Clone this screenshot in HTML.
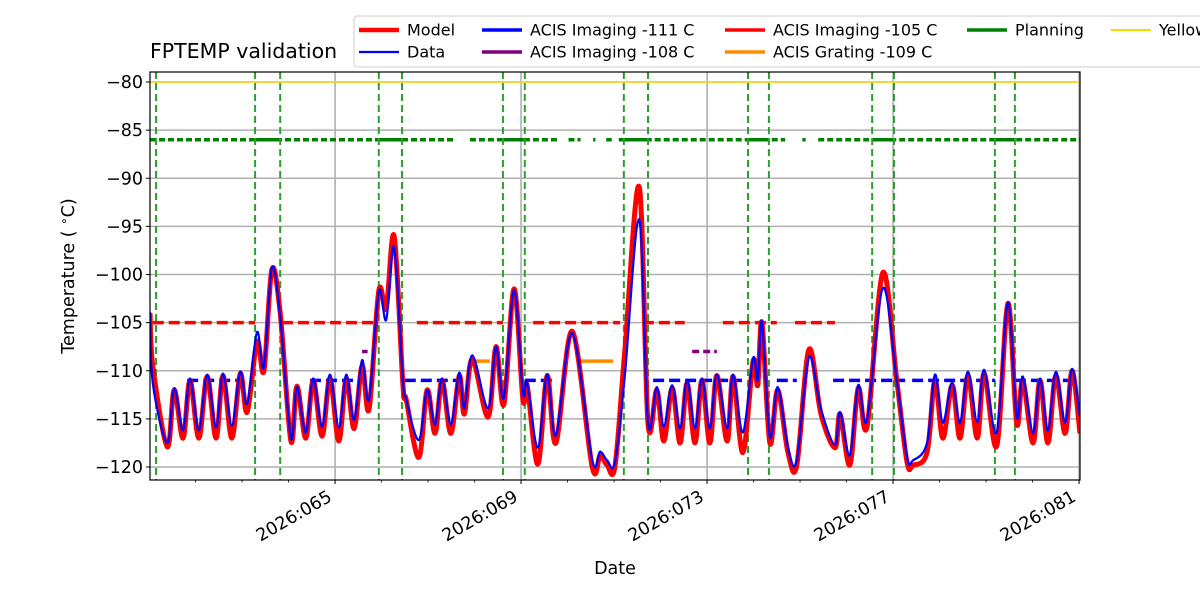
<!DOCTYPE html>
<html><head><meta charset="utf-8"><style>
body{margin:0;background:#fff}
svg text{font-family:"DejaVu Sans","Liberation Sans",sans-serif}
</style></head><body>
<svg id="chart" width="1200" height="600" viewBox="0 0 1200 600" xmlns="http://www.w3.org/2000/svg">
<defs><clipPath id="clip"><rect x="150" y="72" width="930" height="408"/></clipPath></defs>
<rect width="1200" height="600" fill="#fff"/>
<g id="grid"></g>
<g id="marks" clip-path="url(#clip)"></g>
<rect x="150" y="72" width="930" height="408" fill="none" stroke="#000" stroke-width="1.2"/>
<g id="axes"></g>
<text x="150" y="58" font-size="20.5">FPTEMP validation</text>
<text x="615" y="574" font-size="17.5" text-anchor="middle">Date</text>
<text transform="translate(74,276) rotate(-90)" font-size="17.5" text-anchor="middle">Temperature ( <tspan font-size="12" dy="-6">∘</tspan><tspan dy="6">C)</tspan></text>
<g id="legend">
<rect x="354" y="16" width="860" height="51" rx="3" fill="#fff" stroke="#ccc" stroke-width="1"/>
</g>
</svg>
<script>
const dayMin=61.02, dayMax=81.02, tMin=-121.35, tMax=-78.96;
const days=[61.02,61.08,61.39,61.54,61.73,61.88,62.07,62.25,62.44,62.59,62.78,62.96,63.11,63.32,63.47,63.64,63.82,64.05,64.18,64.37,64.53,64.72,64.89,65.08,65.24,65.41,65.58,65.73,65.94,66.10,66.27,66.46,66.53,66.80,66.98,67.15,67.30,67.49,67.67,67.78,67.95,68.29,68.46,68.63,68.85,69.04,69.13,69.36,69.56,69.75,70.10,70.53,70.70,70.85,71.02,71.23,71.54,71.73,71.92,72.07,72.25,72.42,72.57,72.74,72.89,73.06,73.21,73.43,73.56,73.77,73.99,74.09,74.18,74.35,74.52,74.74,74.93,75.19,75.45,75.75,75.86,76.07,76.25,76.44,76.78,77.08,77.30,77.43,77.73,77.90,78.07,78.27,78.44,78.61,78.81,78.96,79.23,79.47,79.66,79.79,80.01,80.16,80.33,80.50,80.70,80.85,81.02];
const dataTemps=[-103.9,-111.3,-117.5,-111.8,-116.2,-110.8,-116.2,-110.4,-115.9,-110.3,-115.7,-110.1,-113.4,-106.0,-109.6,-99.3,-104.4,-117.0,-111.7,-116.4,-110.8,-115.8,-110.4,-115.9,-110.4,-115.1,-108.9,-113.0,-101.8,-104.7,-97.2,-111.0,-113.0,-117.2,-112.0,-115.6,-110.8,-115.6,-110.2,-113.9,-108.4,-113.9,-107.5,-112.8,-101.6,-112.3,-111.2,-118.0,-110.4,-116.7,-106.1,-119.3,-118.4,-119.3,-119.5,-110.6,-94.3,-115.4,-111.7,-115.8,-111.5,-116.0,-111.0,-116.0,-110.8,-116.0,-110.4,-116.0,-110.4,-116.4,-108.7,-111.0,-104.9,-116.9,-111.7,-118.0,-119.3,-108.6,-114.0,-117.7,-114.3,-118.8,-111.5,-115.1,-101.4,-111.0,-119.0,-119.3,-117.5,-110.4,-115.4,-111.2,-115.4,-110.1,-115.3,-109.9,-116.4,-102.9,-114.8,-110.6,-116.5,-110.8,-116.2,-110.1,-115.4,-109.8,-114.8];
const modelTemps=[-104,-109.5,-117.9,-112,-117,-111,-117,-110.6,-117,-110.5,-117,-110.3,-114.3,-107,-110,-99.5,-104,-117.3,-111.6,-117,-111,-116.8,-110.8,-117.3,-110.8,-116,-109.5,-114,-101.7,-103.5,-96.0,-111.5,-113.0,-119,-112,-116.5,-111,-116.5,-110.5,-114.5,-108.8,-114.8,-107.5,-113.5,-101.5,-113,-111.5,-119.7,-110.5,-117.5,-105.9,-120,-118.8,-119.8,-119.9,-108,-90.9,-115.5,-112,-117.3,-111.8,-117.5,-111.3,-117.5,-111,-117.5,-110.5,-117.3,-110.6,-118.5,-109,-111.5,-105,-117.5,-112,-118.5,-119.8,-107.8,-114.5,-118,-114.5,-119.8,-111.8,-115.8,-99.8,-111,-119.5,-119.8,-118.5,-111,-117,-111.5,-117,-110.5,-117,-110.3,-117.8,-103,-115.5,-111,-117.5,-111,-117.5,-110.5,-116.5,-110,-116.5];
const limit105Segs=[[61.08,63.28],[63.86,65.90],[66.76,68.61],[69.26,71.13],[71.62,72.52],[73.34,74.50],[74.89,75.75]];
const limit111Segs=[[61.82,63.02],[64.46,65.39],[66.50,67.75],[69.08,69.73],[71.84,73.75],[74.50,74.93],[75.71,77.26],[77.41,79.19],[79.62,80.98]];
const limit108Segs=[[65.58,65.70],[72.68,73.21]];
const limit109Segs=[[67.90,68.33],[70.22,70.98]];
const planningDotSegs=[[61.02,67.60],[67.90,69.80],[70.02,70.28],[70.55,70.60],[70.83,70.95],[71.10,74.68],[75.05,75.12],[75.39,81.02]];
const planningSolidSegs=[[63.28,63.82],[65.94,66.44],[68.61,69.08],[71.21,71.73],[73.88,74.33],[76.55,77.02],[79.19,79.62]];
const commandDays=[61.15,63.28,63.82,65.94,66.44,68.61,69.08,71.21,71.73,73.88,74.33,76.55,77.02,79.19,79.62];
const yTicks=[-80,-85,-90,-95,-100,-105,-110,-115,-120];
const xMajor=[65,69,73,77,81];
const xLabels=["2026:065","2026:069","2026:073","2026:077","2026:081"];

const NS="http://www.w3.org/2000/svg";
const X=d=>150+(d-dayMin)/(dayMax-dayMin)*930;
const Y=t=>480-(t-tMin)/(tMax-tMin)*408;
function mk(tag,attrs,parent){const e=document.createElementNS(NS,tag);for(const k in attrs)e.setAttribute(k,attrs[k]);parent.appendChild(e);return e;}
const grid=document.getElementById('grid'),marks=document.getElementById('marks'),axes=document.getElementById('axes');
yTicks.forEach(t=>{
  const g=mk('line',{x1:150,x2:1080,y1:Y(t),y2:Y(t),stroke:'#b0b0b0','stroke-width':1.6},grid);
  
  
  mk('line',{x1:146,x2:150,y1:Y(t),y2:Y(t),stroke:'#000','stroke-width':1},axes);
  const tx=mk('text',{x:143,y:Y(t)+6,'font-size':17.5,'text-anchor':'end'},axes);
  tx.textContent='\u2212'+Math.abs(t);
  
  
});
for(let d=62;d<=81;d++){mk('line',{x1:X(d),x2:X(d),y1:480,y2:482.5,stroke:'#000','stroke-width':0.8},axes);}
xMajor.forEach((d,i)=>{
  const g=mk('line',{x1:X(d),x2:X(d),y1:72,y2:480,stroke:'#b0b0b0','stroke-width':1.6},grid);
  
  
  mk('line',{x1:X(d),x2:X(d),y1:480,y2:484,stroke:'#000','stroke-width':1},axes);
  const tx=mk('text',{transform:`translate(${X(d)-2},${500}) rotate(-30)`,'font-size':17.5,'text-anchor':'end'},axes);
  tx.textContent=xLabels[i];
  
  
});
function segs(list,t,color,w,dash,name){list.forEach(s=>{
  const l=mk('line',{x1:X(s[0]),x2:X(s[1]),y1:Y(t),y2:Y(t),stroke:color,'stroke-width':w,'stroke-dasharray':dash},marks);
  
  
});}
const yl=mk('line',{x1:150,x2:1080,y1:Y(-80),y2:Y(-80),stroke:'#ffd700','stroke-width':1.6},marks);


segs(planningDotSegs,-86,'#008000',3.5,'6,3','planning-limit-dotted');
segs(planningSolidSegs,-86,'#008000',3.5,'none','planning-limit-solid');
commandDays.forEach(d=>{
  const l=mk('line',{x1:X(d),x2:X(d),y1:72,y2:480,stroke:'#2ca02c','stroke-width':2,'stroke-dasharray':'7,4'},marks);
  
  
});
segs(limit105Segs,-105,'#ff0000',3.5,'11,5','acis-i-105-limit');
segs(limit111Segs,-111,'#0000ff',3.5,'11,5','acis-i-111-limit');
segs(limit108Segs,-108,'#800080',3.5,'7,4','acis-i-108-limit');
segs(limit109Segs,-109,'#ff8c00',3.5,'none','acis-s-109-limit');
function smooth(xs,ys){const p=xs.map((d,i)=>[X(d),Y(ys[i])]);let s=`M${p[0][0]},${p[0][1]}`;
  for(let i=0;i<p.length-1;i++){const p0=p[i-1]||p[i],p1=p[i],p2=p[i+1],p3=p[i+2]||p2;
    const c1=[p1[0]+(p2[0]-p0[0])/6,p1[1]+(p2[1]-p0[1])/6],c2=[p2[0]-(p3[0]-p1[0])/6,p2[1]-(p3[1]-p1[1])/6];
    s+=` C${c1[0]},${c1[1]} ${c2[0]},${c2[1]} ${p2[0]},${p2[1]}`;}return s;}
const mp=mk('path',{d:smooth(days,modelTemps),fill:'none',stroke:'#ff0000','stroke-width':5,'stroke-linejoin':'round'},marks);


const dp=mk('path',{d:smooth(days,dataTemps),fill:'none',stroke:'#0000ff','stroke-width':2.2,'stroke-linejoin':'round'},marks);


const legend=document.getElementById('legend');
const entries=[[359,30,'#ff0000',4.5,'Model'],[359,52,'#0000ff',2.2,'Data'],[482,30,'#0000ff',3.5,'ACIS Imaging -111 C'],[482,52,'#800080',3.5,'ACIS Imaging -108 C'],[725,30,'#ff0000',3.5,'ACIS Imaging -105 C'],[725,52,'#ff8c00',3.5,'ACIS Grating -109 C'],[967,30,'#008000',3.5,'Planning'],[1111,30,'#ffd700',2,'Yellow']];
entries.forEach(e=>{
  const g=mk('g',{},legend);
  
  
  mk('line',{x1:e[0],x2:e[0]+40,y1:e[1],y2:e[1],stroke:e[2],'stroke-width':e[3]},g);
  const t=mk('text',{x:e[0]+48,y:e[1]+5.5,'font-size':16},g);
  t.textContent=e[4];
});
</script>
</body></html>
